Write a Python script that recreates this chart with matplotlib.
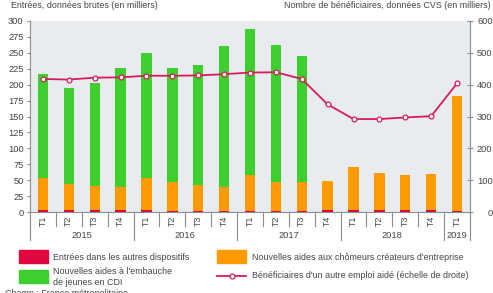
import numpy as np
import matplotlib.pyplot as plt
from matplotlib.patches import Rectangle
from matplotlib.lines import Line2D
import matplotlib.transforms as mtransforms

plt.rcParams['font.family'] = ['Liberation Sans', 'DejaVu Sans']

quarters = ['T1', 'T2', 'T3', 'T4'] * 4 + ['T1']
years = ['2015', '2016', '2017', '2018', '2019']

autres = [3, 3, 3, 3, 3, 1, 1, 1, 2, 1, 1, 3, 3, 3, 3, 3, 1]
# orange top (including red part)
createurs_top = [53, 44, 41, 40, 54, 47, 42, 40, 58, 47, 47, 49, 70, 61, 58, 59, 182]
# green top (total)
jeunes_top = [216, 194, 202, 226, 249, 226, 231, 260, 287, 263, 245, 0, 0, 0, 0, 0, 0]
beneficiaires = [418, 416, 422, 423, 428, 428, 429, 433, 438, 439, 418, 338, 292, 292, 297, 301, 404]

RED = '#e2063f'
GREEN = '#3ccf2e'
ORANGE = '#ff9b00'
LINE = '#d81b5a'
GRAY = '#8a8d90'
TXT = '#444444'
FS = 6.4

W, H = 493, 293
fig = plt.figure(figsize=(W / 100, H / 100), dpi=100)
ax = fig.add_axes([30 / W, 1 - 212 / H, (470 - 30) / W, (212 - 21) / H])
ax.set_facecolor('#e9ecee')

x = np.arange(len(quarters))
createurs = np.array(createurs_top) - np.array(autres)
jeunes = np.clip(np.array(jeunes_top) - np.array(createurs_top), 0, None)
bw = 0.4
ax.bar(x, autres, bw, color=RED, zorder=2)
ax.bar(x, createurs, bw, bottom=autres, color=ORANGE, zorder=2)
ax.bar(x, jeunes, bw, bottom=createurs_top, color=GREEN, zorder=2)

ax.set_xlim(-0.5, len(quarters) - 0.5)
ax.set_ylim(0, 300)
ax.set_yticks(range(0, 301, 25))
ax.set_xticks(x)
ax.set_xticklabels(quarters, rotation=90, fontsize=FS, color=TXT)
ax.tick_params(axis='x', length=0, pad=2.5)
ax.tick_params(axis='y', length=2, width=0.8, color=GRAY, labelsize=FS + 0.3,
               labelcolor=TXT, pad=2.5)
for s in ['top', 'right']:
    ax.spines[s].set_visible(False)
for s in ['left', 'bottom']:
    ax.spines[s].set_color(GRAY)

ax2 = ax.twinx()
ax2.plot(x, beneficiaires, color=LINE, lw=1.3, marker='o', ms=3.5,
         mfc='white', mec=LINE, mew=0.9, zorder=3)
ax2.set_ylim(0, 600)
ax2.set_yticks(range(0, 601, 100))
ax2.tick_params(axis='y', direction='inout', length=4, width=0.8, color=GRAY,
                labelsize=FS + 0.3, labelcolor=TXT, pad=14.3)
for lab in ax2.get_yticklabels():
    lab.set_horizontalalignment('right')
for s in ['top', 'left', 'bottom']:
    ax2.spines[s].set_visible(False)
ax2.spines['right'].set_color(GRAY)

# separators and year labels
trans = mtransforms.blended_transform_factory(ax.transData, ax.transAxes)
year_bounds = [-0.5, 3.5, 7.5, 11.5, 15.5, 16.5]
for b in np.arange(-0.5, len(quarters), 1.0):
    low = -0.147 if b in year_bounds else -0.073
    ax.plot([b, b], [0, low], color=GRAY, lw=0.8, transform=trans, clip_on=False)
for i, yr in enumerate(years):
    c = (year_bounds[i] + year_bounds[i + 1]) / 2
    ax.text(c, -0.125, yr, transform=trans, ha='center', va='center',
            fontsize=FS + 0.3, color=TXT)

# titles
fig.text(11 / W, 1 - 5 / H, 'Entrées, données brutes (en milliers)', ha='left',
         va='center', fontsize=FS, color=TXT)
fig.text(491 / W, 1 - 5 / H, 'Nombre de bénéficiaires, données CVS (en milliers)',
         ha='right', va='center', fontsize=FS, color=TXT)

# legend
def patch(x0, x1, y0, y1, color):
    fig.add_artist(Rectangle((x0 / W, 1 - y1 / H), (x1 - x0) / W, (y1 - y0) / H,
                             transform=fig.transFigure, color=color))

patch(19, 48, 250, 263, RED)
patch(19, 48, 270, 283, GREEN)
patch(217, 246, 250, 263, ORANGE)
fig.add_artist(Line2D([217 / W, 246 / W], [1 - 276 / H] * 2, color=LINE, lw=1.3,
                      transform=fig.transFigure))
fig.add_artist(Line2D([231.5 / W], [1 - 276 / H], marker='o', ms=3.5, mfc='white',
                      mec=LINE, mew=0.9, transform=fig.transFigure))
fig.text(53 / W, 1 - 257 / H, 'Entrées dans les autres dispositifs',
         va='center', fontsize=FS, color=TXT)
fig.text(53 / W, 1 - 277 / H, "Nouvelles aides à l'embauche\nde jeunes en CDI",
         va='center', fontsize=FS, color=TXT, linespacing=1.25)
fig.text(252 / W, 1 - 257 / H, "Nouvelles aides aux chômeurs créateurs d'entreprise",
         va='center', fontsize=FS, color=TXT)
fig.text(252 / W, 1 - 276 / H, "Bénéficiaires d'un autre emploi aidé (échelle de droite)",
         va='center', fontsize=FS, color=TXT)
fig.text(5 / W, 1 - 294 / H, 'Champ : France métropolitaine.', va='center',
         fontsize=FS, color=TXT)

fig.savefig('out.png', dpi=100)
